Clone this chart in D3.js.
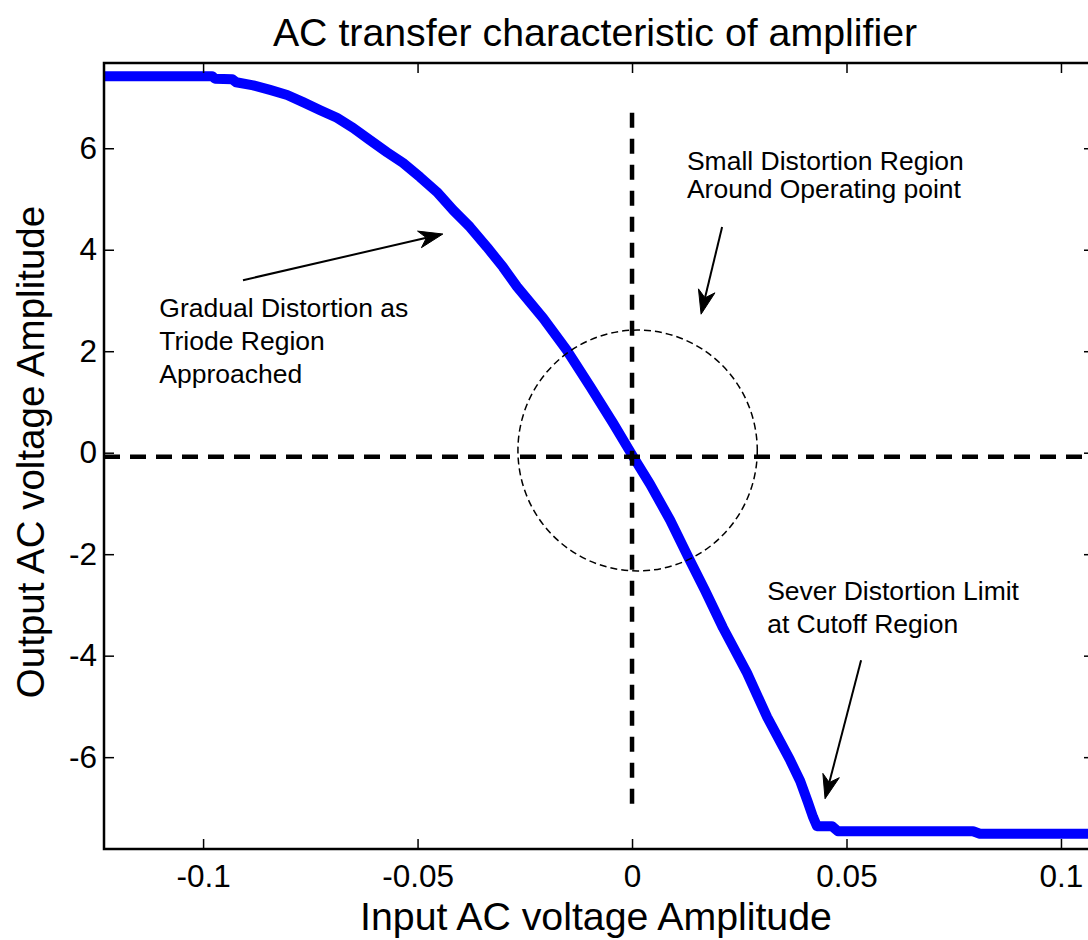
<!DOCTYPE html>
<html>
<head>
<meta charset="utf-8">
<script src="https://cdn.jsdelivr.net/npm/d3@7"></script>
<style>
  html, body { margin: 0; padding: 0; background: #fff; }
  svg { display: block; }
  text { font-family: "Liberation Sans", Arial, Helvetica, sans-serif; fill: #000; }
</style>
</head>
<body>
<svg id="chart" width="1088" height="940"></svg>
<script>
// Measured transfer curve: input AC amplitude (V) -> output AC amplitude (V)
const inputAmp = [
  -0.1231, -0.0979, -0.0972, -0.0932, -0.0923, -0.0883, -0.0844, -0.0804,
  -0.0767, -0.0727, -0.0688, -0.0650, -0.0611, -0.0571, -0.0534, -0.0494,
  -0.0455, -0.0417, -0.0378, -0.0338, -0.0301, -0.0268, -0.0207, -0.0152,
  -0.0098, -0.0044, 0.0002, 0.0042, 0.0089, 0.0133, 0.0170, 0.0212,
  0.0268, 0.0315, 0.0368, 0.0392, 0.0410, 0.0422, 0.0431, 0.0466,
  0.0480, 0.0795, 0.0811, 0.1077
];
const outputAmp = [
  7.42, 7.42, 7.37, 7.36, 7.30, 7.24, 7.15, 7.05,
  6.91, 6.75, 6.60, 6.40, 6.16, 5.92, 5.71, 5.43,
  5.14, 4.78, 4.45, 4.05, 3.66, 3.27, 2.65, 2.02,
  1.31, 0.58, -0.07, -0.62, -1.33, -2.09, -2.71, -3.45,
  -4.34, -5.21, -6.05, -6.47, -6.89, -7.18, -7.36, -7.36,
  -7.46, -7.46, -7.51, -7.51
];

// Axis limits and ticks
const xDomain = [-0.1231, 0.1077];
const yDomain = [-7.81, 7.68];
const xTickValues = [-0.1, -0.05, 0, 0.05, 0.1];
const xTickLabels = ["-0.1", "-0.05", "0", "0.05", "0.1"];
const yTickValues = [-6, -4, -2, 0, 2, 4, 6];
const yTickLabels = ["-6", "-4", "-2", "0", "2", "4", "6"];

// Operating-point cross-hair and the small-signal region
const opPoint = [0, -0.08];
const vLineSpan = [-7.1, 6.7];
const circleCenter = [0.0013, 0.043];
const circleRadii = [0.0279, 2.374];

// Annotations: text lines, first-baseline anchor (data units), arrow tail/tip
const noteText = [
  ["Gradual Distortion as", "Triode Region", "Approached"],
  ["Small Distortion Region", "Around Operating point"],
  ["Sever Distortion Limit", "at Cutoff Region"]
];
const noteAnchor = [[-0.1102, 2.674], [0.0128, 5.570], [0.0315, -2.902]];
const arrowTail = [[-0.0907, 3.40], [0.0210, 4.45], [0.0534, -4.09]];
const arrowTip = [[-0.0441, 4.31], [0.0161, 2.73], [0.0450, -6.82]];

// ---- layout ----
const W = 1088, H = 940;
const plot = { left: 104, right: 1094, top: 63, bottom: 849 };
const noteLeading = [33, 28, 33];

const svg = d3.select("#chart");
svg.append("rect").attr("width", W).attr("height", H).attr("fill", "#fff");

const x = d3.scaleLinear().domain(xDomain).range([plot.left, plot.right]);
const y = d3.scaleLinear().domain(yDomain).range([plot.bottom, plot.top]);

svg.append("defs").append("clipPath").attr("id", "plotClip")
  .append("rect")
  .attr("x", plot.left).attr("y", plot.top)
  .attr("width", plot.right - plot.left).attr("height", plot.bottom - plot.top);

const g = svg.append("g").attr("clip-path", "url(#plotClip)");

// Transfer curve
const curve = inputAmp.map((v, i) => [v, outputAmp[i]]);
g.append("path")
  .datum(curve)
  .attr("fill", "none")
  .attr("stroke", "#0000ff")
  .attr("stroke-width", 10)
  .attr("stroke-linejoin", "round")
  .attr("stroke-linecap", "butt")
  .attr("d", d3.line().x(d => x(d[0])).y(d => y(d[1])));

// Cross-hair through the operating point
g.append("line")
  .attr("x1", x(xDomain[0])).attr("x2", x(xDomain[1]))
  .attr("y1", y(opPoint[1])).attr("y2", y(opPoint[1]))
  .attr("stroke", "#000").attr("stroke-width", 4.5)
  .attr("stroke-dasharray", "16,10");
g.append("line")
  .attr("x1", x(opPoint[0])).attr("x2", x(opPoint[0]))
  .attr("y1", y(vLineSpan[1])).attr("y2", y(vLineSpan[0]))
  .attr("stroke", "#000").attr("stroke-width", 4.5)
  .attr("stroke-dasharray", "15,11");

// Small-signal region
g.append("ellipse")
  .attr("cx", x(circleCenter[0])).attr("cy", y(circleCenter[1]))
  .attr("rx", x(circleCenter[0] + circleRadii[0]) - x(circleCenter[0]))
  .attr("ry", y(circleCenter[1]) - y(circleCenter[1] + circleRadii[1]))
  .attr("fill", "none").attr("stroke", "#000").attr("stroke-width", 1.5)
  .attr("stroke-dasharray", "7,4");

// Axes: box with inward ticks on all sides
const tickLen = 10;
const axG = svg.append("g");
const xBottom = d3.axisBottom(x).tickValues(xTickValues)
  .tickFormat((d, i) => xTickLabels[i]).tickSizeInner(-tickLen).tickSizeOuter(0).tickPadding(16);
const xTop = d3.axisTop(x).tickValues(xTickValues)
  .tickFormat("").tickSizeInner(-tickLen).tickSizeOuter(0);
const yLeft = d3.axisLeft(y).tickValues(yTickValues)
  .tickFormat((d, i) => yTickLabels[i]).tickSizeInner(-tickLen).tickSizeOuter(0).tickPadding(7);
const yRight = d3.axisRight(y).tickValues(yTickValues)
  .tickFormat("").tickSizeInner(-tickLen).tickSizeOuter(0);

function styleAxis(sel) {
  sel.select(".domain").remove();
  sel.selectAll(".tick line").attr("stroke", "#000").attr("stroke-width", 1.5);
  sel.selectAll(".tick text")
    .style("font-family", '"Liberation Sans", Arial, sans-serif')
    .style("font-size", "31.5px").attr("fill", "#000");
}
axG.append("g").attr("transform", `translate(0,${plot.bottom})`).call(xBottom).call(styleAxis);
axG.append("g").attr("transform", `translate(0,${plot.top})`).call(xTop).call(styleAxis);
axG.append("g").attr("transform", `translate(${plot.left},0)`).call(yLeft).call(styleAxis);
axG.append("g").attr("transform", `translate(${plot.right},0)`).call(yRight).call(styleAxis);

axG.append("rect")
  .attr("x", plot.left).attr("y", plot.top)
  .attr("width", plot.right - plot.left).attr("height", plot.bottom - plot.top)
  .attr("fill", "none").attr("stroke", "#000").attr("stroke-width", 2.5);

// Annotation text
const notes = svg.append("g");
noteText.forEach((lines, k) => {
  const t = notes.append("text")
    .attr("x", x(noteAnchor[k][0])).attr("y", y(noteAnchor[k][1]))
    .style("font-size", "26.5px");
  lines.forEach((line, i) => {
    t.append("tspan")
      .attr("x", x(noteAnchor[k][0]))
      .attr("y", y(noteAnchor[k][1]) + i * noteLeading[k])
      .text(line);
  });
});

// Annotation arrows (notched heads)
function drawArrow(from, to) {
  const x0 = x(from[0]), y0 = y(from[1]), x1 = x(to[0]), y1 = y(to[1]);
  const a = Math.atan2(y1 - y0, x1 - x0);
  const L = 24, hw = 8.5, notch = 0.7 * L;
  const ux = Math.cos(a), uy = Math.sin(a), px = -uy, py = ux;
  const bx = x1 - L * ux, by = y1 - L * uy;
  const nx = x1 - notch * ux, ny = y1 - notch * uy;
  notes.append("line")
    .attr("x1", x0).attr("y1", y0).attr("x2", nx).attr("y2", ny)
    .attr("stroke", "#000").attr("stroke-width", 2);
  notes.append("path")
    .attr("d", `M${x1},${y1}L${bx + hw * px},${by + hw * py}L${nx},${ny}L${bx - hw * px},${by - hw * py}Z`)
    .attr("fill", "#000").attr("stroke", "#000").attr("stroke-width", 1);
}
arrowTail.forEach((t, i) => drawArrow(t, arrowTip[i]));

// Titles
svg.append("text")
  .attr("x", 595).attr("y", 46)
  .attr("text-anchor", "middle")
  .style("font-size", "39.3px")
  .text("AC transfer characteristic of amplifier");
svg.append("text")
  .attr("x", 596).attr("y", 930)
  .attr("text-anchor", "middle")
  .style("font-size", "39.3px")
  .text("Input AC voltage Amplitude");
svg.append("text")
  .attr("transform", `translate(44,${(plot.top + plot.bottom) / 2 - 4}) rotate(-90)`)
  .attr("text-anchor", "middle")
  .style("font-size", "38.5px")
  .text("Output AC voltage Amplitude");
</script>
</body>
</html>
